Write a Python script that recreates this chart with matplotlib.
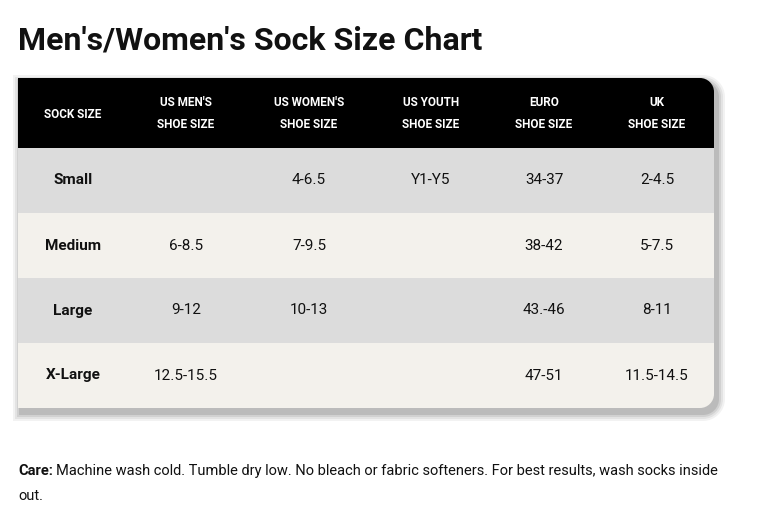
import matplotlib
matplotlib.use("Agg")
import matplotlib.pyplot as plt
from matplotlib.path import Path
from matplotlib.patches import PathPatch, Rectangle, FancyBboxPatch

title = "Men's/Women's Sock Size Chart"
headers = ["SOCK SIZE", "US MEN'S\nSHOE SIZE", "US WOMEN'S\nSHOE SIZE", "US YOUTH\nSHOE SIZE", "EURO\nSHOE SIZE", "UK\nSHOE SIZE"]
sizes = ["Small", "Medium", "Large", "X-Large"]
us_men = ["", "6-8.5", "9-12", "12.5-15.5"]
us_women = ["4-6.5", "7-9.5", "10-13", ""]
us_youth = ["Y1-Y5", "", "", ""]
euro = ["34-37", "38-42", "43.-46", "47-51"]
uk = ["2-4.5", "5-7.5", "8-11", "11.5-14.5"]

W, H = 780, 529
fig = plt.figure(figsize=(W/100, H/100), dpi=100)
ax = fig.add_axes([0, 0, 1, 1])
ax.set_xlim(0, W); ax.set_ylim(H, 0); ax.axis("off")

x0, x1, y0, y1, r = 18, 714, 78, 408, 14
def shape(x0, x1, y0, y1, r):
    k = 0.55*r
    verts = [(x0, y0), (x1-r, y0), (x1-r+k, y0), (x1, y0+r-k), (x1, y0+r),
             (x1, y1-r), (x1, y1-r+k), (x1-r+k, y1), (x1-r, y1), (x0, y1), (x0, y0)]
    codes = [Path.MOVETO, Path.LINETO, Path.CURVE4, Path.CURVE4, Path.CURVE4,
             Path.LINETO, Path.CURVE4, Path.CURVE4, Path.CURVE4, Path.LINETO, Path.CLOSEPOLY]
    return Path(verts, codes)

# shadow
for i, a in enumerate([0.05, 0.06, 0.08, 0.10]):
    d = 8 - 2*i
    ax.add_patch(PathPatch(shape(x0-d+3, x1+d+3, y0-d+5, y1+d+5, r+d), fc="black", ec="none", alpha=a))

clip = PathPatch(shape(x0, x1, y0, y1, r), fc="none", ec="none", transform=ax.transData)
ax.add_patch(clip)

cols = [sizes, us_men, us_women, us_youth, euro, uk]
xc = [73, 186, 309, 431, 544, 657]
rh = 65
hdr = Rectangle((x0, y0), x1-x0, 70, fc="black", ec="none"); ax.add_patch(hdr); hdr.set_clip_path(clip)
for i in range(len(sizes)):
    ry = y0 + 70 + i*rh
    p = Rectangle((x0, ry), x1-x0, rh, fc="#dcdcdc" if i % 2 == 0 else "#f3f1ec", ec="none")
    ax.add_patch(p); p.set_clip_path(clip)
    for j, c in enumerate(cols):
        ax.text(xc[j], ry+rh/2, c[i], ha="center", va="center", fontsize=11, family="Roboto",
                weight="bold" if j == 0 else "normal", color="#111111")
for j, h in enumerate(headers):
    ax.text(xc[j], y0+36, h, ha="center", va="center", fontsize=8.5, family="Roboto", weight="bold",
            color="white", linespacing=1.9)

ax.text(18, 40, title, ha="left", va="center", fontsize=23, family="Roboto", weight="bold", color="#111111")
ax.text(18, 471, "Care:", ha="left", va="center", fontsize=10.5, family="Roboto", weight="bold", color="#111111")
ax.text(56, 471, "Machine wash cold. Tumble dry low. No bleach or fabric softeners. For best results, wash socks inside",
        ha="left", va="center", fontsize=10.5, family="Roboto", color="#111111")
ax.text(18, 496, "out.", ha="left", va="center", fontsize=10.5, family="Roboto", color="#111111")
fig.savefig("out.png", dpi=100)
